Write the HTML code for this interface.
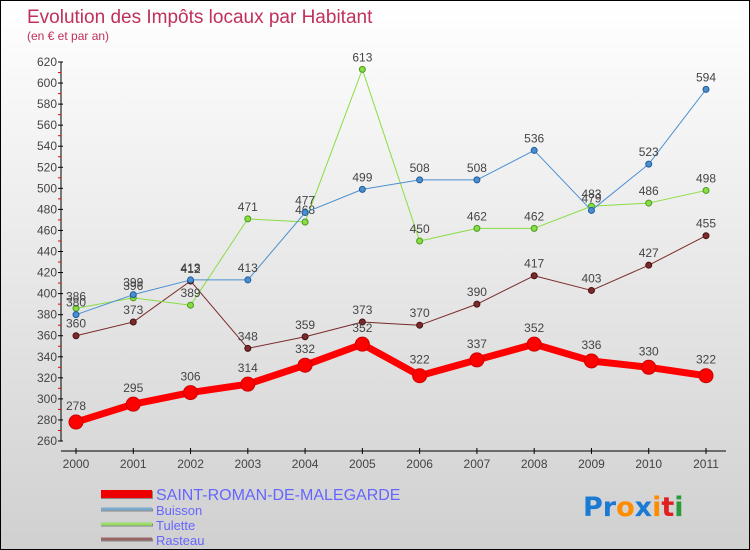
<!DOCTYPE html>
<html><head><meta charset="utf-8"><style>
body{margin:0}
#c{width:750px;height:550px;position:relative;box-sizing:border-box;border:1px solid #000;background:linear-gradient(#ffffff,#d0d0d0);font-family:"Liberation Sans",sans-serif;overflow:hidden}
svg{position:absolute;left:0;top:0}
</style></head><body>
<div id="c">
<svg id="s" width="750" height="550">
<text x="26" y="22" font-size="19" fill="#c0305a">Evolution des Impôts locaux par Habitant</text>
<text x="26" y="39" font-size="12" fill="#c0305a">(en € et par an)</text>
<g>
<text x="582" y="515" font-size="27" font-family="'DejaVu Sans',sans-serif" font-weight="bold"><tspan fill="#1a7ad4">Pr</tspan><tspan fill="#ff8c00">o</tspan><tspan fill="#1a7ad4">x</tspan><tspan fill="#ff8c00">i</tspan><tspan fill="#e02020">t</tspan><tspan fill="#2a9a3a">i</tspan></text>
</g>
</svg>
</div>
<script>
const years=['2000','2001','2002','2003','2004','2005','2006','2007','2008','2009','2010','2011'];
const saint=[278,295,306,314,332,352,322,337,352,336,330,322];
const buisson=[380,399,413,413,477,499,508,508,536,479,523,594];
const tulette=[386,396,389,471,468,613,450,462,462,483,486,498];
const rasteau=[360,373,412,348,359,373,370,390,417,403,427,455];
const yTicks=[260,280,300,320,340,360,380,400,420,440,460,480,500,520,540,560,580,600,620];
const NS='http://www.w3.org/2000/svg';
const svg=document.getElementById('s');
const X0=75,X1=705,Y0=440,Y1=61,VMIN=260,VMAX=620;
const xs=i=>X0+(X1-X0)*i/(years.length-1);
const ys=v=>Y0-(v-VMIN)*(Y0-Y1)/(VMAX-VMIN);
function mk(t,a,p){const e=document.createElementNS(NS,t);for(const k in a)e.setAttribute(k,a[k]);(p||svg).appendChild(e);return e;}
// y axis
const ya=mk('g',{});


mk('line',{x1:60,y1:Y1,x2:60,y2:Y0,stroke:'#000','stroke-width':1},ya);
yTicks.forEach((v,i)=>{
  const y=ys(v);
  mk('line',{x1:57,y1:y,x2:62,y2:y,stroke:'#000'},ya);
  if(i<yTicks.length-1)mk('line',{x1:57,y1:(y+ys(yTicks[i+1]))/2,x2:60,y2:(y+ys(yTicks[i+1]))/2,stroke:'#e00'},ya);
  const t=mk('text',{x:56,y:y+4,'text-anchor':'end','font-size':12,fill:'#444'},ya);
  t.textContent=v;
  
  
});
// x axis
const xa=mk('g',{});


mk('line',{x1:60,y1:450,x2:725,y2:450,stroke:'#000'},xa);
years.forEach((yr,i)=>{
  const x=xs(i);
  mk('line',{x1:x,y1:447,x2:x,y2:453,stroke:'#000'},xa);
  const t=mk('text',{x:x,y:467,'text-anchor':'middle','font-size':12,fill:'#444'},xa);
  t.textContent=yr;
  
  
});
function series(vals,color,dark,w,r,name){
  const g=mk('g',{});
  
  
  mk('polyline',{points:vals.map((v,i)=>xs(i)+','+ys(v)).join(' '),fill:'none',stroke:color,'stroke-width':w,'stroke-linejoin':'round'},g);
  vals.forEach((v,i)=>{
    const c=mk('circle',{cx:xs(i),cy:ys(v),r:r,fill:color,stroke:dark,'stroke-width':1},g);
    
    
    const t=mk('text',{x:xs(i),y:ys(v)-(r+5),'text-anchor':'middle','font-size':12,fill:'#444'},g);
    t.textContent=v;
    
    
  });
}
series(rasteau,'#7a2a2a','#4a1010',1,3,'series-rasteau');
series(tulette,'#88dd44','#4a9a20',1,3,'series-tulette');
series(buisson,'#4a8fd0','#205a9a',1,3,'series-buisson');
series(saint,'#ff0000','#cc0000',7,7,'series-saint-roman');
// legend
const lg=mk('g',{});


const leg=[['SAINT-ROMAN-DE-MALEGARDE','#ee0000',8,493,16],['Buisson','#7aaacc',3,508,13],['Tulette','#99dd66',3,523,13],['Rasteau','#996666',3,538,13]];
leg.forEach(l=>{
  const e=mk('g',{},lg);
  
  
  mk('line',{x1:100,y1:l[3]+1,x2:152,y2:l[3]+1,stroke:'#888','stroke-width':l[2]},e);
  mk('line',{x1:100,y1:l[3],x2:151,y2:l[3],stroke:l[1],'stroke-width':l[2]},e);
  const t=mk('text',{x:155,y:l[3]+6,'font-size':l[4],fill:'#6666ff'},e);
  t.textContent=l[0];
});
</script>
</body></html>
